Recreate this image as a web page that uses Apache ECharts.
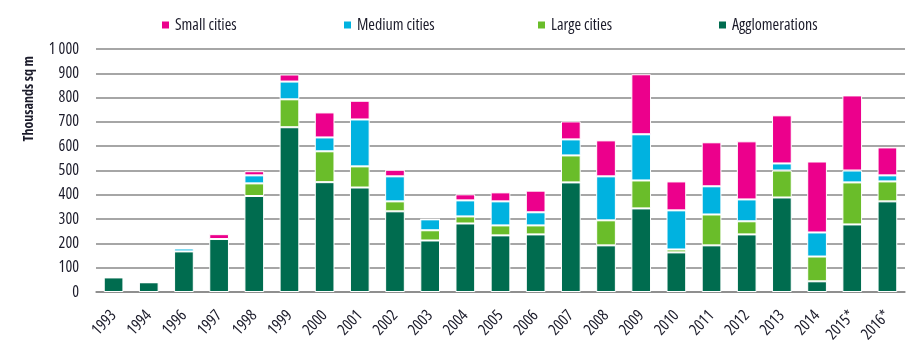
<!DOCTYPE html>
<html><head><meta charset="utf-8">
<script src="https://cdn.jsdelivr.net/npm/echarts@6/dist/echarts.min.js"></script>
<style>html,body{margin:0;padding:0;background:#fff}#c{width:918px;height:358px}</style>
</head><body><div id="c"></div>
<script>
const years = ['1993','1994','1996','1997','1998','1999','2000','2001','2002','2003','2004','2005','2006','2007','2008','2009','2010','2011','2012','2013','2014','2015*','2016*'];
const agglomerations = [60,40,167,218,395,678,452,430,332,212,282,233,237,451,192,344,163,192,237,389,44,278,373];
const largeCities   = [0,0,0,0,52,115,127,87,41,42,29,41,37,111,103,115,12,127,54,111,102,173,82];
const mediumCities  = [0,0,12,0,33,73,57,193,103,45,66,99,54,66,181,190,161,116,90,29,99,49,25];
const smallCities   = [0,0,0,20,17,29,103,77,27,0,25,37,89,74,148,247,119,181,239,198,292,309,115];
const yTicks = [0,100,200,300,400,500,600,700,800,900,1000];

const FONT = '"Open Sans","DejaVu Sans",sans-serif';
const COND = 'condensed';
const TXT = '#1b1b2a';
const colors = {small:'#EC008C', medium:'#00B2E0', large:'#6ABD2A', agglo:'#006C4F'};

const chart = echarts.init(document.getElementById('c'), null, {renderer:'canvas'});
function mkSeries(name, data, color){
  return {name, type:'bar', stack:'t', data, barWidth:'56%',
    itemStyle:{color, borderColor:'#fff', borderWidth:1},
    emphasis:{disabled:true}};
}
function mkLegend(name, left){
  return {data:[name], left, top:12, itemWidth:9, itemHeight:9, icon:'rect', itemGap:6,
    textStyle:{fontFamily:FONT, fontStyle:COND, fontSize:16, color:TXT}, selectedMode:false};
}
chart.setOption({
  animation:false,
  color:[colors.small, colors.medium, colors.large, colors.agglo],
  legend:[mkLegend('Small cities',155), mkLegend('Medium cities',337), mkLegend('Large cities',531), mkLegend('Agglomerations',712)],
  grid:{left:96, right:13, top:49, bottom:66},
  xAxis:{type:'category', data:years,
    axisLine:{lineStyle:{color:'#888', width:1.5}}, axisTick:{show:false},
    axisLabel:{rotate:47, fontFamily:FONT, fontStyle:COND, fontSize:16, color:TXT, margin:21}},
  yAxis:{type:'value', min:yTicks[0], max:yTicks[yTicks.length-1], interval:100,
    axisLine:{show:false}, axisTick:{show:false},
    splitLine:{lineStyle:{color:'#888', width:1.5}},
    axisLabel:{fontFamily:FONT, fontStyle:COND, fontSize:16, color:TXT, margin:17,
      formatter:v=> v>=1000 ? String(v).replace(/\B(?=(\d{3})+(?!\d))/g,' ') : String(v)}},
  graphic:[{type:'text', left:22, top:56, rotation:Math.PI/2,
    style:{text:'Thousands sq m', font:'condensed bold 14px '+FONT, fill:TXT}}],
  series:[
    mkSeries('Agglomerations', agglomerations, colors.agglo),
    mkSeries('Large cities', largeCities, colors.large),
    mkSeries('Medium cities', mediumCities, colors.medium),
    mkSeries('Small cities', smallCities, colors.small)
  ]
});
</script></body></html>
